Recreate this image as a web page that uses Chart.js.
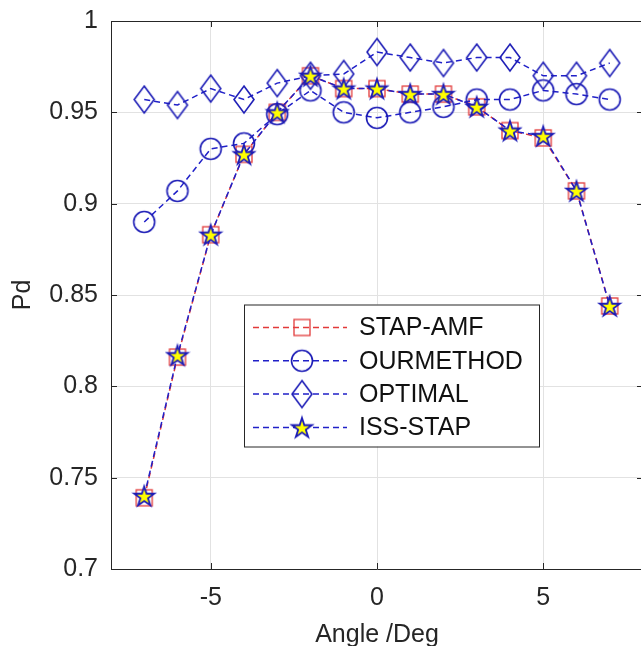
<!DOCTYPE html>
<html lang="en">
  <head>
    <meta charset="UTF-8" />
    <title>Pd vs Angle</title>
    <script src="https://cdn.jsdelivr.net/npm/chart.js@4.4.0/dist/chart.umd.min.js"></script>
    <style>
      html,
      body {
        margin: 0;
        padding: 0;
        background: #fff;
        overflow: hidden;
      }
      .chart-box {
        position: relative;
        width: 660px;
        height: 650px;
      }
    </style>
  </head>
  <body>
    <div class="chart-box">
      <canvas id="pdChart"></canvas>
    </div>

    <script>
      // data
      const angles = [-7, -6, -5, -4, -3, -2, -1, 0, 1, 2, 3, 4, 5, 6, 7];
      const stapAmf = [0.739, 0.816, 0.883, 0.927, 0.95, 0.97, 0.963, 0.963, 0.96, 0.96, 0.953, 0.94, 0.936, 0.907, 0.844];
      const ourMethod = [0.89, 0.907, 0.93, 0.933, 0.949, 0.962, 0.95, 0.947, 0.95, 0.953, 0.957, 0.957, 0.962, 0.96, 0.957];
      const optimal = [0.957, 0.954, 0.963, 0.957, 0.966, 0.97, 0.971, 0.983, 0.98, 0.977, 0.98, 0.98, 0.97, 0.97, 0.977];
      const issStap = [0.74, 0.817, 0.883, 0.927, 0.95, 0.97, 0.963, 0.963, 0.96, 0.96, 0.953, 0.94, 0.937, 0.907, 0.844];
      const xTicks = [-5, 0, 5];
      const yTicks = [0.7, 0.75, 0.8, 0.85, 0.9, 0.95, 1];
      const seriesNames = ["STAP-AMF", "OURMETHOD", "OPTIMAL", "ISS-STAP"];

      const BLUE = "#1c1cb6";
      const LINE_BLUE = "#2020c8";
      const RED = "#e23a3a";
      const AXIS = "#262626";
      const FONT = "'Liberation Sans', Arial, sans-serif";

      // marker images (matlab style)
      function makeMarker(w, h, draw) {
        const c = document.createElement("canvas");
        c.width = w;
        c.height = h;
        draw(c.getContext("2d"), w, h);
        return c;
      }
      const squareImg = makeMarker(20, 20, (g) => {
        g.strokeStyle = RED;
        g.lineWidth = 1.3;
        g.strokeRect(2, 2, 16, 16);
      });
      const circleImg = makeMarker(26, 26, (g) => {
        g.strokeStyle = BLUE;
        g.lineWidth = 1.6;
        g.beginPath();
        g.arc(13, 13, 10.5, 0, Math.PI * 2);
        g.stroke();
      });
      const diamondImg = makeMarker(24, 31, (g) => {
        g.strokeStyle = BLUE;
        g.lineWidth = 1.6;
        g.beginPath();
        g.moveTo(12, 2);
        g.lineTo(22, 15.5);
        g.lineTo(12, 29);
        g.lineTo(2, 15.5);
        g.closePath();
        g.stroke();
      });
      const starImg = makeMarker(26, 26, (g) => {
        const R = 10.5, r = R * 0.382, cx = 13, cy = 14;
        g.beginPath();
        for (let i = 0; i < 10; i++) {
          const rad = i % 2 === 0 ? R : r;
          const a = -Math.PI / 2 + (i * Math.PI) / 5;
          const px = cx + rad * Math.cos(a), py = cy + rad * Math.sin(a);
          if (i === 0) g.moveTo(px, py);
          else g.lineTo(px, py);
        }
        g.closePath();
        g.fillStyle = "#ffff00";
        g.fill();
        g.strokeStyle = BLUE;
        g.lineWidth = 1.8;
        g.stroke();
      });
      const markers = [squareImg, circleImg, diamondImg, starImg];
      const lineColors = [RED, LINE_BLUE, LINE_BLUE, LINE_BLUE];

      const toPoints = (ys) => angles.map((a, i) => ({ x: a, y: ys[i] }));

      function series(idx, values, order) {
        return {
          label: seriesNames[idx],
          data: toPoints(values),
          borderColor: lineColors[idx],
          borderWidth: 1.5,
          borderDash: [6, 4],
          pointStyle: markers[idx],
          pointRadius: 10,
          pointHoverRadius: 10,
          fill: false,
          tension: 0,
          order: order,
        };
      }

      // frame, inward ticks and legend box drawn over the data
      const matlabFrame = {
        id: "matlabFrame",
        afterDatasetsDraw(chart) {
          const { ctx, chartArea: ca, scales } = chart;
          const tl = 6;
          ctx.save();
          ctx.strokeStyle = AXIS;
          ctx.lineWidth = 1;
          ctx.beginPath();
          ctx.moveTo(ca.left, ca.top + 0.5);
          ctx.lineTo(ca.right, ca.top + 0.5);
          ctx.moveTo(ca.right - 0.5, ca.top);
          ctx.lineTo(ca.right - 0.5, ca.bottom);
          xTicks.forEach((v) => {
            const px = Math.round(scales.x.getPixelForValue(v)) + 0.5;
            ctx.moveTo(px, ca.bottom);
            ctx.lineTo(px, ca.bottom - tl);
            ctx.moveTo(px, ca.top);
            ctx.lineTo(px, ca.top + tl);
          });
          yTicks.forEach((v) => {
            const py = Math.round(scales.y.getPixelForValue(v)) + 0.5;
            ctx.moveTo(ca.left, py);
            ctx.lineTo(ca.left + tl, py);
            ctx.moveTo(ca.right, py);
            ctx.lineTo(ca.right - tl, py);
          });
          ctx.stroke();

          // legend
          const bx = ca.left + 133, by = ca.top + 283.5, bw = 295, bh = 142;
          ctx.fillStyle = "#fff";
          ctx.fillRect(bx, by, bw, bh);
          ctx.strokeStyle = AXIS;
          ctx.strokeRect(bx + 0.5, by + 0.5, bw, bh);
          ctx.font = "25px " + FONT;
          ctx.textBaseline = "middle";
          ctx.textAlign = "left";
          seriesNames.forEach((name, i) => {
            const cy = by + 23 + i * 33.3;
            ctx.strokeStyle = lineColors[i];
            ctx.lineWidth = 1.5;
            ctx.setLineDash([6, 4]);
            ctx.beginPath();
            ctx.moveTo(bx + 9, cy);
            ctx.lineTo(bx + 103, cy);
            ctx.stroke();
            ctx.setLineDash([]);
            const m = markers[i];
            ctx.drawImage(m, bx + 58 - m.width / 2, cy - m.height / 2);
            ctx.fillStyle = "#111";
            ctx.fillText(name, bx + 115, cy + 1);
          });
          ctx.restore();
        },
      };

      const ctx = document.getElementById("pdChart").getContext("2d");
      new Chart(ctx, {
        type: "line",
        data: {
          datasets: [
            series(3, issStap, 1),
            series(2, optimal, 2),
            series(1, ourMethod, 3),
            series(0, stapAmf, 4),
          ],
        },
        options: {
          responsive: true,
          maintainAspectRatio: false,
          animation: false,
          layout: { padding: { left: 0, top: 21, right: 17, bottom: 0 } },
          plugins: {
            legend: { display: false },
            tooltip: { enabled: false },
          },
          scales: {
            x: {
              type: "linear",
              min: -8,
              max: 8,
              afterBuildTicks: (axis) => {
                axis.ticks = xTicks.map((v) => ({ value: v }));
              },
              afterFit: (axis) => {
                axis.height = 81;
                axis.paddingLeft = 0;
                axis.paddingRight = 0;
              },
              grid: { color: "#e2e2e2", drawTicks: false },
              border: { display: true, color: AXIS, width: 1 },
              ticks: {
                padding: 14,
                color: AXIS,
                font: { family: FONT, size: 25 },
              },
              title: {
                display: true,
                text: "Angle /Deg",
                color: AXIS,
                font: { family: FONT, size: 25 },
                padding: { top: 0, bottom: 0 },
              },
            },
            y: {
              min: 0.7,
              max: 1,
              afterBuildTicks: (axis) => {
                axis.ticks = yTicks.map((v) => ({ value: v }));
              },
              afterFit: (axis) => {
                axis.width = 111;
                axis.paddingTop = 0;
                axis.paddingBottom = 0;
              },
              grid: { color: "#e2e2e2", drawTicks: false },
              border: { display: true, color: AXIS, width: 1 },
              ticks: {
                padding: 13,
                color: AXIS,
                font: { family: FONT, size: 25 },
                callback: (v) => String(Number(v.toFixed(2))),
              },
              title: {
                display: true,
                text: "Pd",
                color: AXIS,
                font: { family: FONT, size: 25 },
                padding: { top: 8, bottom: 0 },
              },
            },
          },
        },
        plugins: [matlabFrame],
      });
    </script>
  </body>
</html>
